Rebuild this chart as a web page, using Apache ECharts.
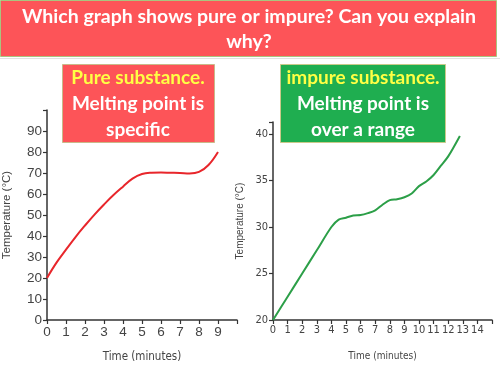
<!DOCTYPE html>
<html><head><meta charset="utf-8">
<script src="https://cdn.jsdelivr.net/npm/echarts@6/dist/echarts.min.js"></script>
<style>html,body{margin:0;padding:0;background:#fff}#c{width:500px;height:377px}</style>
</head><body><div id="c"></div>
<script>
const titleLines = ['Which graph shows pure or impure? Can you explain', 'why?'];
const pureLabel = ['Pure substance.', 'Melting point is', 'specific'];
const impureLabel = ['impure substance.', 'Melting point is', 'over a range'];

const pureTime = [0, 0.5, 1, 1.5, 2, 2.5, 3, 3.5, 4, 4.5, 5, 5.5, 6, 6.5, 7, 7.5, 8, 8.5, 9];
const pureTemp = [20, 27.3, 33.5, 39.5, 45, 50.2, 55, 59.5, 63.5, 67.3, 69.5, 70.1, 70.2, 70.1, 70.0, 69.8, 70.5, 73.8, 80];

const impureTime = [0, 1, 2, 3, 4, 4.5, 5, 5.5, 6, 6.5, 7, 7.5, 8, 8.5, 9, 9.5, 10, 10.5, 11, 11.5, 12, 12.8];
const impureTemp = [20, 22.5, 25, 27.5, 30, 30.8, 31.0, 31.25, 31.3, 31.5, 31.8, 32.4, 32.9, 33.0, 33.2, 33.6, 34.4, 34.9, 35.6, 36.6, 37.6, 39.8];

const pureYTicks = { min: 0, max: 100, interval: 10, hide: [100] };
const pureXTicks = { min: 0, max: 10, interval: 1, hide: [10] };
const impureYTicks = { min: 20, max: 41.3, interval: 5 };
const impureXTicks = { min: 0, max: 15, interval: 1, hide: [15] };

const chart = echarts.init(document.getElementById('c'), null, { renderer: 'canvas' });
const axisCommon = {
  axisLine: { show: true, lineStyle: { color: '#333', width: 1.5 } },
  axisTick: { show: true, length: 4, lineStyle: { color: '#333', width: 1.2 } },
  splitLine: { show: false }
};
function pairs(xs, ys) { return xs.map((x, i) => [x, ys[i]]); }
const narrow = 'DejaVu Sans Condensed';

chart.setOption({
  animation: false,
  grid: [
    { left: 46, right: 263, top: 110, bottom: 57 },
    { left: 273, right: 8, top: 122, bottom: 57 }
  ],
  xAxis: [
    Object.assign({ type: 'value', gridIndex: 0, min: pureXTicks.min, max: pureXTicks.max, interval: pureXTicks.interval,
      name: 'Time (minutes)', nameLocation: 'middle', nameGap: 31,
      nameTextStyle: { fontFamily: narrow, fontSize: 11.5, color: '#444' },
      axisLabel: { fontFamily: 'Liberation Sans', fontSize: 13.5, color: '#444', margin: 5,
        formatter: v => pureXTicks.hide.includes(v) ? '' : String(v) } }, axisCommon),
    Object.assign({ type: 'value', gridIndex: 1, min: impureXTicks.min, max: impureXTicks.max, interval: impureXTicks.interval,
      name: 'Time (minutes)', nameLocation: 'middle', nameGap: 31,
      nameTextStyle: { fontFamily: narrow, fontSize: 10, color: '#444' },
      axisLabel: { fontFamily: narrow, fontSize: 11, color: '#444', margin: 5,
        formatter: v => impureXTicks.hide.includes(v) ? '' : String(v) } }, axisCommon)
  ],
  yAxis: [
    Object.assign({ type: 'value', gridIndex: 0, min: pureYTicks.min, max: pureYTicks.max, interval: pureYTicks.interval,
      name: 'Temperature (°C)', nameLocation: 'middle', nameGap: 34,
      nameTextStyle: { fontFamily: 'Liberation Sans', fontSize: 11.5, color: '#444' },
      axisLabel: { fontFamily: 'Liberation Sans', fontSize: 13.5, color: '#444', margin: 5,
        formatter: v => pureYTicks.hide.includes(v) ? '' : String(v) } }, axisCommon),
    Object.assign({ type: 'value', gridIndex: 1, min: impureYTicks.min, max: impureYTicks.max, interval: impureYTicks.interval,
      name: 'Temperature (°C)', nameLocation: 'middle', nameGap: 28,
      nameTextStyle: { fontFamily: 'Liberation Sans', fontSize: 10, color: '#444' },
      axisLabel: { fontFamily: narrow, fontSize: 11, color: '#444', margin: 5,
        formatter: v => (v % 5 === 0) ? String(v) : '' } }, axisCommon)
  ],
  series: [
    { type: 'line', xAxisIndex: 0, yAxisIndex: 0, data: pairs(pureTime, pureTemp), smooth: 0.4, showSymbol: false,
      lineStyle: { color: '#e8262b', width: 2 } },
    { type: 'line', xAxisIndex: 1, yAxisIndex: 1, data: pairs(impureTime, impureTemp), smooth: 0.3, showSymbol: false,
      lineStyle: { color: '#2c9f48', width: 2 } }
  ],
  graphic: [
    { type: 'rect', z: 100, shape: { x: 0.5, y: 0.5, width: 496, height: 56 },
      style: { fill: '#fd5458', stroke: '#a9c47f', lineWidth: 1 } },
    { type: 'line', z: 100, shape: { x1: 0, y1: 58.5, x2: 500, y2: 58.5 }, style: { stroke: '#e2e2e2', lineWidth: 1 } },
    { type: 'text', z: 101, x: 249, y: 17, style: { text: titleLines[0], fill: '#fff', font: 'bold 19.5px Lato', align: 'center', verticalAlign: 'middle' } },
    { type: 'text', z: 101, x: 249, y: 42, style: { text: titleLines[1], fill: '#fff', font: 'bold 19.5px Lato', align: 'center', verticalAlign: 'middle' } },

    { type: 'rect', z: 100, shape: { x: 62.5, y: 64.5, width: 152, height: 78 },
      style: { fill: '#fd5458', stroke: '#c9b98a', lineWidth: 1 } },
    { type: 'text', z: 101, x: 138, y: 78, style: { text: pureLabel[0], fill: '#ffff44', font: 'bold 19px Lato', align: 'center', verticalAlign: 'middle' } },
    { type: 'text', z: 101, x: 138, y: 104, style: { text: pureLabel[1], fill: '#fff', font: 'bold 19px Lato', align: 'center', verticalAlign: 'middle' } },
    { type: 'text', z: 101, x: 138, y: 130, style: { text: pureLabel[2], fill: '#fff', font: 'bold 19px Lato', align: 'center', verticalAlign: 'middle' } },

    { type: 'rect', z: 100, shape: { x: 280.5, y: 64.5, width: 165, height: 78 },
      style: { fill: '#1fae50', stroke: '#c9c98a', lineWidth: 1 } },
    { type: 'text', z: 101, x: 363, y: 78, style: { text: impureLabel[0], fill: '#ffff44', font: 'bold 19px Lato', align: 'center', verticalAlign: 'middle' } },
    { type: 'text', z: 101, x: 363, y: 104, style: { text: impureLabel[1], fill: '#fff', font: 'bold 19px Lato', align: 'center', verticalAlign: 'middle' } },
    { type: 'text', z: 101, x: 363, y: 130, style: { text: impureLabel[2], fill: '#fff', font: 'bold 19px Lato', align: 'center', verticalAlign: 'middle' } }
  ]
});
</script></body></html>
